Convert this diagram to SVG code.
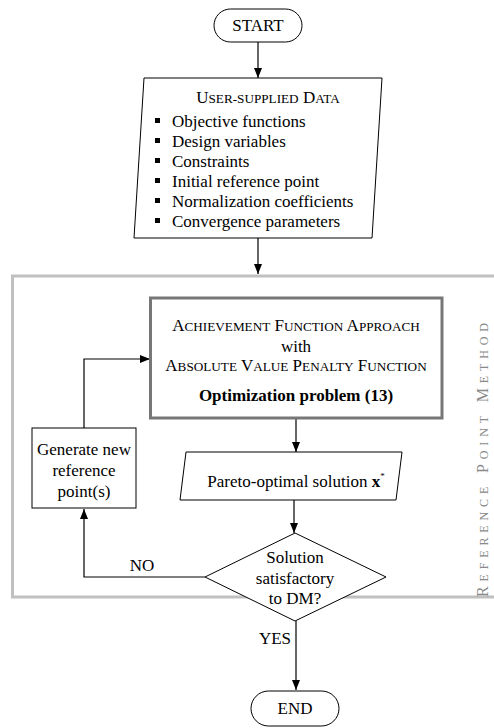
<svg xmlns="http://www.w3.org/2000/svg" width="494" height="728" viewBox="0 0 494 728">
<style>
text{font-family:"Liberation Serif","Times New Roman",serif;font-size:17px;fill:#000}
.c{text-anchor:middle}
.sc{font-size:13.2px}
.n{fill:#fff;stroke:#000;stroke-width:1}
.ln{fill:none;stroke:#000;stroke-width:1.2}
</style>
<defs>
<marker id="ah" viewBox="0 0 10 8" refX="10" refY="4" markerWidth="10" markerHeight="8" markerUnits="userSpaceOnUse" orient="auto">
<path d="M0,0 L10,4 L0,8 z" fill="#000"/>
</marker>
</defs>
<rect x="0" y="0" width="494" height="728" fill="#fff"/>
<g id="frame">
<path d="M500,276 H12.5 V597 H500" fill="none" stroke="#c0c0c0" stroke-width="3"/>
<text transform="translate(488,460) rotate(-90)" class="c" style="fill:#8a8a8a;font-size:16px" textLength="274" lengthAdjust="spacing">R<tspan style="font-size:12px">EFERENCE</tspan> P<tspan style="font-size:12px">OINT</tspan> M<tspan style="font-size:12px">ETHOD</tspan></text>
</g>
<g id="connectors">
<line class="ln" x1="258" y1="42" x2="258" y2="78" marker-end="url(#ah)"/>
<line class="ln" x1="258" y1="238" x2="258" y2="274" marker-end="url(#ah)"/>
<line class="ln" x1="296" y1="418" x2="296" y2="452" marker-end="url(#ah)"/>
<line class="ln" x1="294" y1="500" x2="294" y2="533" marker-end="url(#ah)"/>
<line class="ln" x1="296" y1="621" x2="296" y2="690" marker-end="url(#ah)"/>
<polyline class="ln" points="205,577 84,577 84,509" marker-end="url(#ah)"/>
<polyline class="ln" points="84,428 84,359 150,359" marker-end="url(#ah)"/>
<text x="142" y="571" class="c">NO</text>
<text x="275" y="644" class="c">YES</text>
</g>
<g id="start">
<rect class="n" x="214" y="9" width="88" height="33" rx="16.5"/>
<text x="258" y="31" class="c">START</text>
</g>
<g id="data">
<polygon class="n" points="144,78 382,78 372,238 134,238"/>
<text x="268" y="103" class="c">U<tspan class="sc">SER-SUPPLIED</tspan> D<tspan class="sc">ATA</tspan></text>
<g fill="#000">
<rect x="155" y="118" width="5" height="5"/>
<rect x="155" y="138" width="5" height="5"/>
<rect x="155" y="158" width="5" height="5"/>
<rect x="155" y="178" width="5" height="5"/>
<rect x="155" y="198" width="5" height="5"/>
<rect x="155" y="218" width="5" height="5"/>
</g>
<text x="172" y="127">Objective functions</text>
<text x="172" y="147">Design variables</text>
<text x="172" y="167">Constraints</text>
<text x="172" y="187">Initial reference point</text>
<text x="172" y="207">Normalization coefficients</text>
<text x="172" y="227">Convergence parameters</text>
</g>
<g id="achievement">
<rect x="150.5" y="298" width="291.5" height="120" fill="#fff" stroke="#777" stroke-width="3"/>
<text x="296" y="331" class="c">A<tspan class="sc">CHIEVEMENT</tspan> F<tspan class="sc">UNCTION</tspan> A<tspan class="sc">PPROACH</tspan></text>
<text x="296" y="352" class="c">with</text>
<text x="296" y="371" class="c">A<tspan class="sc">BSOLUTE</tspan> V<tspan class="sc">ALUE</tspan> P<tspan class="sc">ENALTY</tspan> F<tspan class="sc">UNCTION</tspan></text>
<text x="296" y="401" class="c" font-weight="bold">Optimization problem (13)</text>
</g>
<g id="pareto">
<polygon class="n" points="186,452 402,452 396,500 180,500"/>
<text x="296" y="487" class="c">Pareto-optimal solution <tspan font-weight="bold">x</tspan><tspan font-size="9" dy="-8">*</tspan></text>
</g>
<g id="decision">
<polygon class="n" points="295,533 386,577 295,621 205,577"/>
<text x="295" y="563" class="c">Solution</text>
<text x="295" y="584" class="c">satisfactory</text>
<text x="295" y="604" class="c">to DM?</text>
</g>
<g id="generate">
<rect class="n" x="32" y="428" width="104" height="80"/>
<text x="84" y="455" class="c">Generate new</text>
<text x="84" y="476" class="c">reference</text>
<text x="84" y="497" class="c">point(s)</text>
</g>
<g id="end">
<rect class="n" x="251" y="691" width="88" height="35" rx="17.5"/>
<text x="295" y="714" class="c">END</text>
</g>
</svg>
